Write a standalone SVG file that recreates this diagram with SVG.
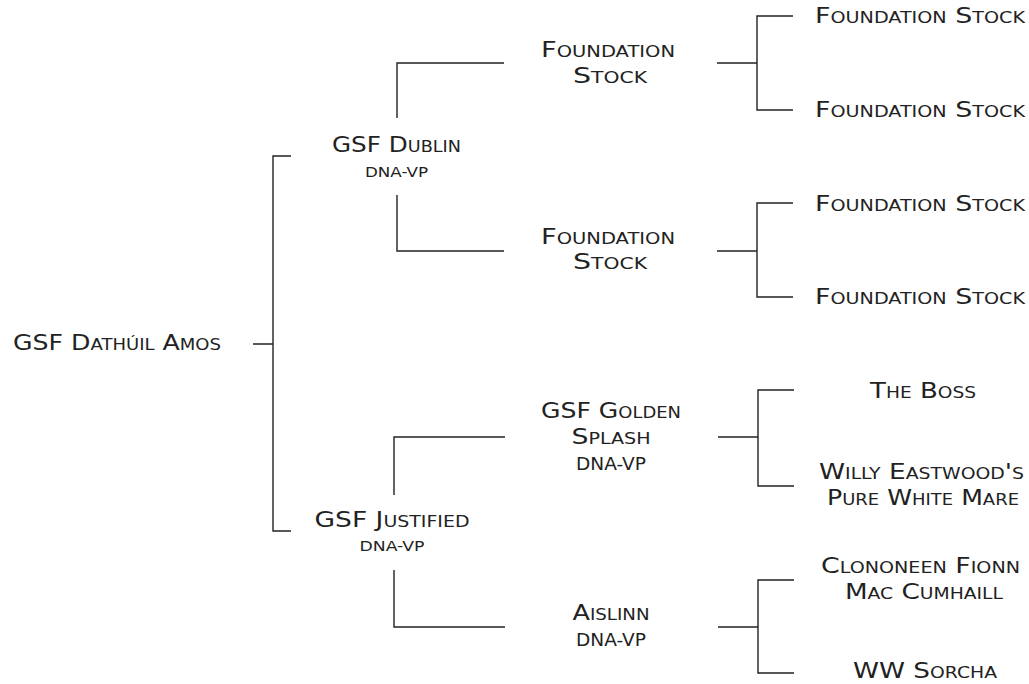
<svg xmlns="http://www.w3.org/2000/svg" width="1029" height="684" viewBox="0 0 1029 684">
<style>
text{font-family:"DejaVu Sans","Liberation Sans",sans-serif;font-variant:small-caps;fill:#222;font-size:21px;text-anchor:middle}
.s{font-size:14px}
.m{font-size:17px}
.l{text-anchor:start}
#connectors path{fill:none;stroke:#222;stroke-width:1.4}
</style>
<rect width="1029" height="684" fill="#fff"/>
<g id="connectors">
<path d="M253,344H273M291,156H273V531H291"/>
<path d="M397,118V63H504M397,195V251H504"/>
<path d="M394,495V437H505M394,570V627H505"/>
<path d="M717,63H757M793,16H757V110H793"/>
<path d="M717,251H757M793,203H757V297H793"/>
<path d="M718,437H758M794,390H758V486H794"/>
<path d="M718,627H758M794,580H758V673H794"/>
</g>
<g id="root"><text class="l" x="13" y="350" textLength="208" lengthAdjust="spacingAndGlyphs">GSF Dathúil Amos</text></g>
<g id="dublin"><text x="396.5" y="152" textLength="129" lengthAdjust="spacingAndGlyphs">GSF Dublin</text><text class="s" x="396.5" y="177" textLength="63" lengthAdjust="spacingAndGlyphs">DNA-VP</text></g>
<g id="justified"><text x="392" y="527" textLength="155" lengthAdjust="spacingAndGlyphs">GSF Justified</text><text class="s" x="392" y="551" textLength="65" lengthAdjust="spacingAndGlyphs">DNA-VP</text></g>
<g id="foundation-1"><text x="608" y="57" textLength="134" lengthAdjust="spacingAndGlyphs">Foundation</text><text x="610" y="83" textLength="74" lengthAdjust="spacingAndGlyphs">Stock</text></g>
<g id="foundation-2"><text x="608" y="244" textLength="134" lengthAdjust="spacingAndGlyphs">Foundation</text><text x="610" y="269" textLength="74" lengthAdjust="spacingAndGlyphs">Stock</text></g>
<g id="golden-splash"><text x="611" y="418" textLength="140" lengthAdjust="spacingAndGlyphs">GSF Golden</text><text x="611" y="444" textLength="79" lengthAdjust="spacingAndGlyphs">Splash</text><text class="m" x="611" y="470" textLength="70" lengthAdjust="spacingAndGlyphs">DNA-VP</text></g>
<g id="aislinn"><text x="611" y="620" textLength="77" lengthAdjust="spacingAndGlyphs">Aislinn</text><text class="m" x="611" y="646" textLength="70" lengthAdjust="spacingAndGlyphs">DNA-VP</text></g>
<g id="fs-1"><text x="920" y="23" textLength="210" lengthAdjust="spacingAndGlyphs">Foundation Stock</text></g>
<g id="fs-2"><text x="920" y="117" textLength="210" lengthAdjust="spacingAndGlyphs">Foundation Stock</text></g>
<g id="fs-3"><text x="920" y="211" textLength="210" lengthAdjust="spacingAndGlyphs">Foundation Stock</text></g>
<g id="fs-4"><text x="920" y="304" textLength="210" lengthAdjust="spacingAndGlyphs">Foundation Stock</text></g>
<g id="the-boss"><text x="923" y="398" textLength="106" lengthAdjust="spacingAndGlyphs">The Boss</text></g>
<g id="willy"><text x="921.5" y="479" textLength="205" lengthAdjust="spacingAndGlyphs">Willy Eastwood's</text><text x="923" y="505" textLength="192" lengthAdjust="spacingAndGlyphs">Pure White Mare</text></g>
<g id="clononeen"><text x="920.5" y="573" textLength="199" lengthAdjust="spacingAndGlyphs">Clononeen Fionn</text><text x="924" y="599" textLength="158" lengthAdjust="spacingAndGlyphs">Mac Cumhaill</text></g>
<g id="ww-sorcha"><text x="925" y="678" textLength="144" lengthAdjust="spacingAndGlyphs">WW Sorcha</text></g>
</svg>
